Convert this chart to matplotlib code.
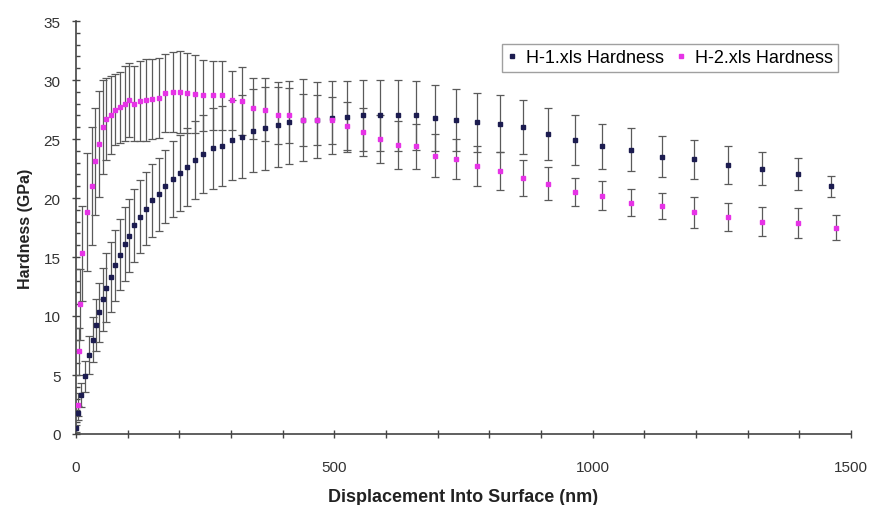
import matplotlib
matplotlib.use("Agg")
import matplotlib.pyplot as plt
from matplotlib.ticker import MultipleLocator

plt.rcParams["font.family"] = ["Liberation Sans", "DejaVu Sans"]

# Depth (nm) and hardness (GPa) with standard deviation for the two samples
depth_h1 = [0, 3, 10, 17, 25, 32, 38, 45, 52, 59, 67, 76, 85, 94, 103, 113, 124,
            135, 147, 160, 173, 187, 201, 215, 230, 246, 265, 282, 302, 322, 343,
            366, 390, 413, 439, 466, 495, 524, 555, 588, 623, 658, 695, 735, 777,
            821, 866, 914, 966, 1019, 1075, 1135, 1197, 1261, 1328, 1398, 1461]
hard_h1 = [0.5, 1.8, 3.3, 4.9, 6.7, 8.0, 9.2, 10.3, 11.4, 12.4, 13.3, 14.3, 15.2,
           16.1, 16.8, 17.7, 18.4, 19.1, 19.8, 20.3, 21.0, 21.6, 22.1, 22.6, 23.2,
           23.7, 24.2, 24.4, 24.9, 25.2, 25.7, 25.9, 26.2, 26.4, 26.6, 26.6, 26.8,
           26.9, 27.0, 27.0, 27.0, 27.0, 26.8, 26.6, 26.4, 26.3, 26.0, 25.4, 24.9,
           24.4, 24.1, 23.5, 23.3, 22.8, 22.5, 22.0, 21.0]
err_h1 = [0.3, 0.6, 1.0, 1.3, 1.6, 1.9, 2.2, 2.5, 2.7, 2.9, 3.0, 3.0, 3.0, 3.1,
          3.1, 3.1, 3.1, 3.1, 3.1, 3.1, 3.1, 3.2, 3.2, 3.3, 3.3, 3.3, 3.4, 3.4,
          3.4, 3.5, 3.5, 3.5, 3.6, 3.5, 3.5, 3.2, 3.1, 3.0, 3.0, 3.0, 3.0, 2.9,
          2.8, 2.6, 2.5, 2.4, 2.3, 2.2, 2.1, 1.9, 1.8, 1.75, 1.65, 1.6, 1.4,
          1.35, 0.9]

depth_h2 = [3, 5, 8, 12, 22, 30, 37, 44, 52, 59, 67, 76, 85, 94, 103, 113, 124,
            135, 147, 160, 173, 187, 201, 215, 230, 246, 265, 282, 302, 322, 343,
            366, 390, 413, 439, 466, 495, 524, 555, 588, 623, 658, 695, 735, 777,
            821, 866, 914, 966, 1019, 1075, 1135, 1197, 1261, 1328, 1398, 1471]
hard_h2 = [2.5, 7.0, 11.0, 15.3, 18.8, 21.0, 23.1, 24.6, 26.0, 26.7, 27.0, 27.5,
           27.7, 28.0, 28.3, 28.0, 28.2, 28.3, 28.4, 28.5, 28.9, 29.0, 29.0, 28.9,
           28.8, 28.7, 28.7, 28.7, 28.3, 28.2, 27.6, 27.5, 27.0, 27.0, 26.6, 26.6,
           26.6, 26.1, 25.6, 25.0, 24.5, 24.4, 23.6, 23.3, 22.7, 22.3, 21.7, 21.2,
           20.5, 20.2, 19.6, 19.3, 18.8, 18.4, 18.0, 17.9, 17.5]
err_h2 = [1.0, 2.0, 3.0, 4.0, 5.0, 5.0, 4.5, 4.5, 4.0, 3.5, 3.3, 3.0, 3.0, 3.2,
          3.1, 3.2, 3.4, 3.5, 3.4, 3.4, 3.3, 3.4, 3.5, 3.4, 3.3, 3.0, 2.9, 2.9,
          2.5, 2.9, 2.6, 2.7, 2.4, 2.3, 2.2, 2.1, 2.0, 2.0, 2.0, 2.0, 2.0, 1.9,
          1.8, 1.7, 1.7, 1.6, 1.5, 1.4, 1.2, 1.25, 1.15, 1.1, 1.3, 1.2, 1.25,
          1.25, 1.1]

labels = ["H-1.xls Hardness", "H-2.xls Hardness"]
colors = ["#1c1c50", "#e633e6"]

fig = plt.figure(figsize=(8.72, 5.06), dpi=100)
ax = fig.add_axes([76 / 872, 1 - 435 / 506, 775 / 872, 413 / 506])

for x, y, e, c, lab in [(depth_h1, hard_h1, err_h1, colors[0], labels[0]),
                        (depth_h2, hard_h2, err_h2, colors[1], labels[1])]:
    ax.errorbar(x, y, yerr=e, fmt="s", ms=3.2, mfc=c, mec=c, color=c,
                ecolor="#5a5a5a", elinewidth=0.9, capsize=2.6, capthick=0.9,
                label=lab, zorder=3)

ax.set_xlim(0, 1500)
ax.set_ylim(0, 35)
ax.xaxis.set_major_locator(MultipleLocator(500))
ax.xaxis.set_minor_locator(MultipleLocator(100))
ax.yaxis.set_major_locator(MultipleLocator(5))
ax.yaxis.set_minor_locator(MultipleLocator(1))

for side in ("top", "right"):
    ax.spines[side].set_visible(False)
for side in ("left", "bottom"):
    ax.spines[side].set_color("#444444")
    ax.spines[side].set_linewidth(1.2)

ax.tick_params(axis="x", which="both", direction="inout", length=6,
               width=1, color="#444444", labelsize=11, labelcolor="#333333", pad=16)
ax.tick_params(axis="y", which="major", direction="inout", length=6,
               width=1, color="#444444", labelsize=11, labelcolor="#333333", pad=8)
ax.tick_params(axis="y", which="minor", direction="in", length=3,
               width=1, color="#444444")

ax.set_xlabel("Displacement Into Surface (nm)", fontsize=13, fontweight="bold",
              color="#222222", labelpad=10)
ax.set_ylabel("Hardness (GPa)", fontsize=11.5, fontweight="bold",
              color="#222222", labelpad=8)

handles, labs = ax.get_legend_handles_labels()
handles = [h[0] for h in handles]
leg = ax.legend(handles, labs, loc="upper right", ncol=2, fontsize=13,
                frameon=True, fancybox=False, edgecolor="#888888",
                handlelength=0.5, handletextpad=0.5, columnspacing=0.7,
                borderpad=0.3, borderaxespad=0.0,
                bbox_to_anchor=((838 - 76) / 775, (435 - 45) / 413),
                bbox_transform=ax.transAxes)
leg.get_frame().set_linewidth(1.0)

fig.savefig("out.png", dpi=100)
